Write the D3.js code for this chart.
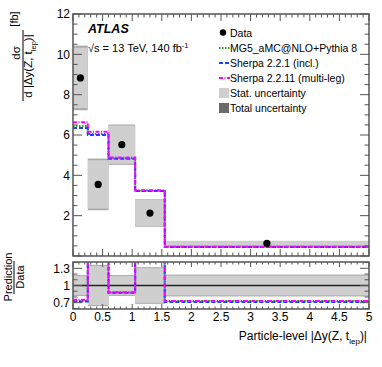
<!DOCTYPE html>
<html>
<head>
<meta charset="utf-8">
<script src="https://cdn.jsdelivr.net/npm/d3@7"></script>
<style>
  body { margin: 0; background: #fff; }
  text { font-family: "Liberation Sans", Arial, sans-serif; fill: #000; }
</style>
</head>
<body>
<div id="chart"></div>
<script>
// bin edges of |dy(Z, t_lep)|
var binEdges = [0, 0.25, 0.6, 1.05, 1.55, 5];
// measured cross section [fb] and its uncertainties
var dataValues = [8.83, 3.55, 5.52, 2.13, 0.63];
var statErr = [1.5, 1.2, 0.95, 0.65, 0.11];
var totalErr = [1.6, 1.28, 1.0, 0.68, 0.12];
// predictions
var mg5Values = [6.45, 6.05, 4.85, 3.24, 0.46];
var sherpa221Values = [6.35, 6.0, 4.82, 3.22, 0.45];
var sherpa2211Values = [6.63, 6.16, 4.88, 3.26, 0.46];
// tick labels
var yTicksMain = [2, 4, 6, 8, 10, 12];
var yTicksRatio = [0.7, 1, 1.3];
var xTicks = [0, 0.5, 1, 1.5, 2, 2.5, 3, 3.5, 4, 4.5, 5];

var models = [
  { name: "MG5_aMC@NLO+Pythia 8", values: mg5Values, color: "#2ca02c", dash: "1.5,1.5" },
  { name: "Sherpa 2.2.1 (incl.)", values: sherpa221Values, color: "#1f3cff", dash: "4,2" },
  { name: "Sherpa 2.2.11 (multi-leg)", values: sherpa2211Values, color: "#ff00ff", dash: "4,1.5,1,1.5" }
];

var W = 382, H = 367;
var left = 73, right = 369;
var mainTop = 14, mainBottom = 256;
var ratTop = 262, ratBottom = 309;

var svg = d3.select("#chart").append("svg")
    .attr("width", W)
    .attr("height", H);

var x = d3.scaleLinear().domain([0, 5]).range([left, right]);
var y = d3.scaleLinear().domain([0, 12]).range([mainBottom, mainTop]);
var yr = d3.scaleLinear().domain([0.59, 1.41]).range([ratBottom, ratTop]);

var bins = dataValues.map(function(v, i) {
  return { lo: binEdges[i], hi: binEdges[i + 1], v: v, stat: statErr[i], tot: totalErr[i] };
});

var defs = svg.append("defs");
defs.append("clipPath").attr("id", "clipMain")
  .append("rect").attr("x", left).attr("y", mainTop).attr("width", right - left).attr("height", mainBottom - mainTop);
defs.append("clipPath").attr("id", "clipRat")
  .append("rect").attr("x", left).attr("y", ratTop).attr("width", right - left).attr("height", ratBottom - ratTop);

// ---------- main panel ----------
var gMain = svg.append("g").attr("clip-path", "url(#clipMain)");

gMain.selectAll("rect.tot").data(bins).enter().append("rect")
    .attr("x", function(d) { return x(d.lo); })
    .attr("width", function(d) { return x(d.hi) - x(d.lo); })
    .attr("y", function(d) { return y(d.v + d.tot); })
    .attr("height", function(d) { return y(d.v - d.tot) - y(d.v + d.tot); })
    .attr("fill", "#a8a8a8");
gMain.selectAll("rect.stat").data(bins).enter().append("rect")
    .attr("x", function(d) { return x(d.lo); })
    .attr("width", function(d) { return x(d.hi) - x(d.lo); })
    .attr("y", function(d) { return y(d.v + d.stat); })
    .attr("height", function(d) { return y(d.v - d.stat) - y(d.v + d.stat); })
    .attr("fill", "#cfcfcf");

function stepPoints(vals) {
  var pts = [];
  vals.forEach(function(v, i) {
    pts.push([binEdges[i], v]);
    pts.push([binEdges[i + 1], v]);
  });
  return pts;
}

models.forEach(function(m) {
  gMain.append("path")
      .datum(stepPoints(m.values))
      .attr("d", d3.line().x(function(d) { return x(d[0]); }).y(function(d) { return y(d[1]); }))
      .attr("fill", "none")
      .attr("stroke", m.color)
      .attr("stroke-width", 2)
      .attr("stroke-dasharray", m.dash);
});

gMain.selectAll("circle").data(bins).enter().append("circle")
    .attr("cx", function(d) { return x((d.lo + d.hi) / 2); })
    .attr("cy", function(d) { return y(d.v); })
    .attr("r", 3.6)
    .attr("fill", "#000");

// ---------- ratio panel ----------
var gRat = svg.append("g").attr("clip-path", "url(#clipRat)");

gRat.selectAll("rect.tot").data(bins).enter().append("rect")
    .attr("x", function(d) { return x(d.lo); })
    .attr("width", function(d) { return x(d.hi) - x(d.lo); })
    .attr("y", function(d) { return yr(1 + d.tot / d.v); })
    .attr("height", function(d) { return yr(1 - d.tot / d.v) - yr(1 + d.tot / d.v); })
    .attr("fill", "#a8a8a8");
gRat.selectAll("rect.stat").data(bins).enter().append("rect")
    .attr("x", function(d) { return x(d.lo); })
    .attr("width", function(d) { return x(d.hi) - x(d.lo); })
    .attr("y", function(d) { return yr(1 + d.tot / d.v) + 1; })
    .attr("height", function(d) { return yr(1 - d.tot / d.v) - yr(1 + d.tot / d.v) - 2; })
    .attr("fill", "#cfcfcf");

gRat.append("line")
    .attr("x1", left).attr("x2", right)
    .attr("y1", yr(1)).attr("y2", yr(1))
    .attr("stroke", "#222").attr("stroke-width", 1.5);

models.forEach(function(m) {
  var ratio = m.values.map(function(v, i) { return v / dataValues[i]; });
  gRat.append("path")
      .datum(stepPoints(ratio))
      .attr("d", d3.line().x(function(d) { return x(d[0]); }).y(function(d) { return yr(Math.min(d[1], 1.5)); }))
      .attr("fill", "none")
      .attr("stroke", m.color)
      .attr("stroke-width", 2)
      .attr("stroke-dasharray", m.dash);
});

// ---------- axes (ROOT style, ticks inside on all four sides) ----------
var axisColor = "#555";
function frame(top, bottom) {
  svg.append("rect")
      .attr("x", left).attr("y", top)
      .attr("width", right - left).attr("height", bottom - top)
      .attr("fill", "none").attr("stroke", axisColor).attr("stroke-width", 1.5);
}
frame(mainTop, mainBottom);
frame(ratTop, ratBottom);

function xTickMarks(yPos, dir, majLen, minLen) {
  var minor = d3.range(0, 50.5, 1).map(function(i) { return i / 10; });
  svg.append("g").selectAll("line").data(minor).enter().append("line")
      .attr("x1", function(d) { return x(d); }).attr("x2", function(d) { return x(d); })
      .attr("y1", yPos)
      .attr("y2", function(d) { return yPos + dir * (Math.abs(d * 2 - Math.round(d * 2)) < 1e-6 ? majLen : minLen); })
      .attr("stroke", axisColor).attr("stroke-width", 1);
}
xTickMarks(mainBottom, -1, 7, 3.5);
xTickMarks(mainTop, 1, 7, 3.5);
xTickMarks(ratBottom, -1, 5, 2.5);
xTickMarks(ratTop, 1, 5, 2.5);

function yTickMarks(scale, vals, isMajor, majLen, minLen) {
  [left, right].forEach(function(xp, side) {
    var dir = side === 0 ? 1 : -1;
    svg.append("g").selectAll("line").data(vals).enter().append("line")
        .attr("x1", xp).attr("x2", function(d) { return xp + dir * (isMajor(d) ? majLen : minLen); })
        .attr("y1", function(d) { return scale(d); }).attr("y2", function(d) { return scale(d); })
        .attr("stroke", axisColor).attr("stroke-width", 1);
  });
}
yTickMarks(y, d3.range(0, 24.5, 1).map(function(i) { return i / 2; }),
  function(d) { return d % 2 === 0; }, 9, 4.5);
yTickMarks(yr, d3.range(6, 14.5, 1).map(function(i) { return i / 10; }),
  function(d) { return Math.abs(d - 0.7) < 1e-6 || Math.abs(d - 1) < 1e-6 || Math.abs(d - 1.3) < 1e-6; }, 9, 4.5);

// tick labels
svg.append("g").selectAll("text").data(yTicksMain).enter().append("text")
    .attr("x", left - 3).attr("y", function(d) { return y(d) + 4.3; })
    .attr("text-anchor", "end").style("font-size", "12px")
    .text(function(d) { return d; });
svg.append("g").selectAll("text").data(yTicksRatio).enter().append("text")
    .attr("x", left - 3).attr("y", function(d) { return yr(d) + 4.3; })
    .attr("text-anchor", "end").style("font-size", "12px")
    .text(function(d) { return d; });
svg.append("g").selectAll("text").data(xTicks).enter().append("text")
    .attr("x", function(d) { return x(d); }).attr("y", 321)
    .attr("text-anchor", "middle").style("font-size", "12px")
    .text(function(d) { return d; });

// x axis title
var xt = svg.append("text").attr("x", 367).attr("y", 340).attr("text-anchor", "end").style("font-size", "12px");
xt.append("tspan").text("Particle-level |Δy(Z, t");
xt.append("tspan").attr("dy", 4).style("font-size", "8px").text("lep");
xt.append("tspan").attr("dy", -4).text(")|");

// main y title: fraction, rotated
var yl = svg.append("g");
yl.append("text").attr("transform", "translate(20,53) rotate(-90)")
    .attr("text-anchor", "middle").style("font-size", "11.5px").text("dσ");
yl.append("line").attr("x1", 23).attr("x2", 23).attr("y1", 30).attr("y2", 101)
    .attr("stroke", "#000").attr("stroke-width", 1);
var den = yl.append("text").attr("transform", "translate(32,66) rotate(-90)")
    .attr("text-anchor", "middle").style("font-size", "11.5px");
den.append("tspan").text("d |Δy(Z, t");
den.append("tspan").attr("dy", 3.5).style("font-size", "7.5px").text("lep");
den.append("tspan").attr("dy", -3.5).text(")|");
yl.append("text").attr("transform", "translate(18,19) rotate(-90)")
    .attr("text-anchor", "middle").style("font-size", "11px").text("[fb]");

// ratio y title
svg.append("text").attr("transform", "translate(12,277) rotate(-90)")
    .attr("text-anchor", "middle").style("font-size", "11px").text("Prediction");
svg.append("line").attr("x1", 14).attr("x2", 14).attr("y1", 261).attr("y2", 294)
    .attr("stroke", "#000").attr("stroke-width", 1);
svg.append("text").attr("transform", "translate(24,277) rotate(-90)")
    .attr("text-anchor", "middle").style("font-size", "11px").text("Data");

// ATLAS label
svg.append("text").attr("x", 88).attr("y", 33)
    .style("font-size", "12.5px").style("font-weight", "bold").style("font-style", "italic")
    .text("ATLAS");
var en = svg.append("text").attr("x", 88).attr("y", 52).style("font-size", "11px");
en.append("tspan").text("√s = 13 TeV, 140 fb");
en.append("tspan").attr("dy", -4).style("font-size", "7.5px").text("-1");

// legend
var lx = 219, ly0 = 33, lstep = 15;
var leg = svg.append("g").style("font-size", "10.5px");
leg.append("circle").attr("cx", lx + 4).attr("cy", ly0 - 0.5).attr("r", 3.2).attr("fill", "#000");
leg.append("text").attr("x", lx + 11).attr("y", ly0 + 3.8).text("Data");
models.forEach(function(m, i) {
  var yy = ly0 + lstep * (i + 1);
  leg.append("line").attr("x1", lx).attr("x2", lx + 11).attr("y1", yy).attr("y2", yy)
      .attr("stroke", m.color).attr("stroke-width", 2).attr("stroke-dasharray", m.dash);
  leg.append("text").attr("x", lx + 11).attr("y", yy + 3.8).text(m.name);
});
[["Stat. uncertainty", "#cfcfcf"], ["Total uncertainty", "#6a6a6a"]].forEach(function(e, i) {
  var yy = ly0 + lstep * (i + 4);
  leg.append("rect").attr("x", lx).attr("y", yy - 5).attr("width", 10).attr("height", 10).attr("fill", e[1]);
  leg.append("text").attr("x", lx + 11).attr("y", yy + 3.8).text(e[0]);
});
</script>
</body>
</html>
